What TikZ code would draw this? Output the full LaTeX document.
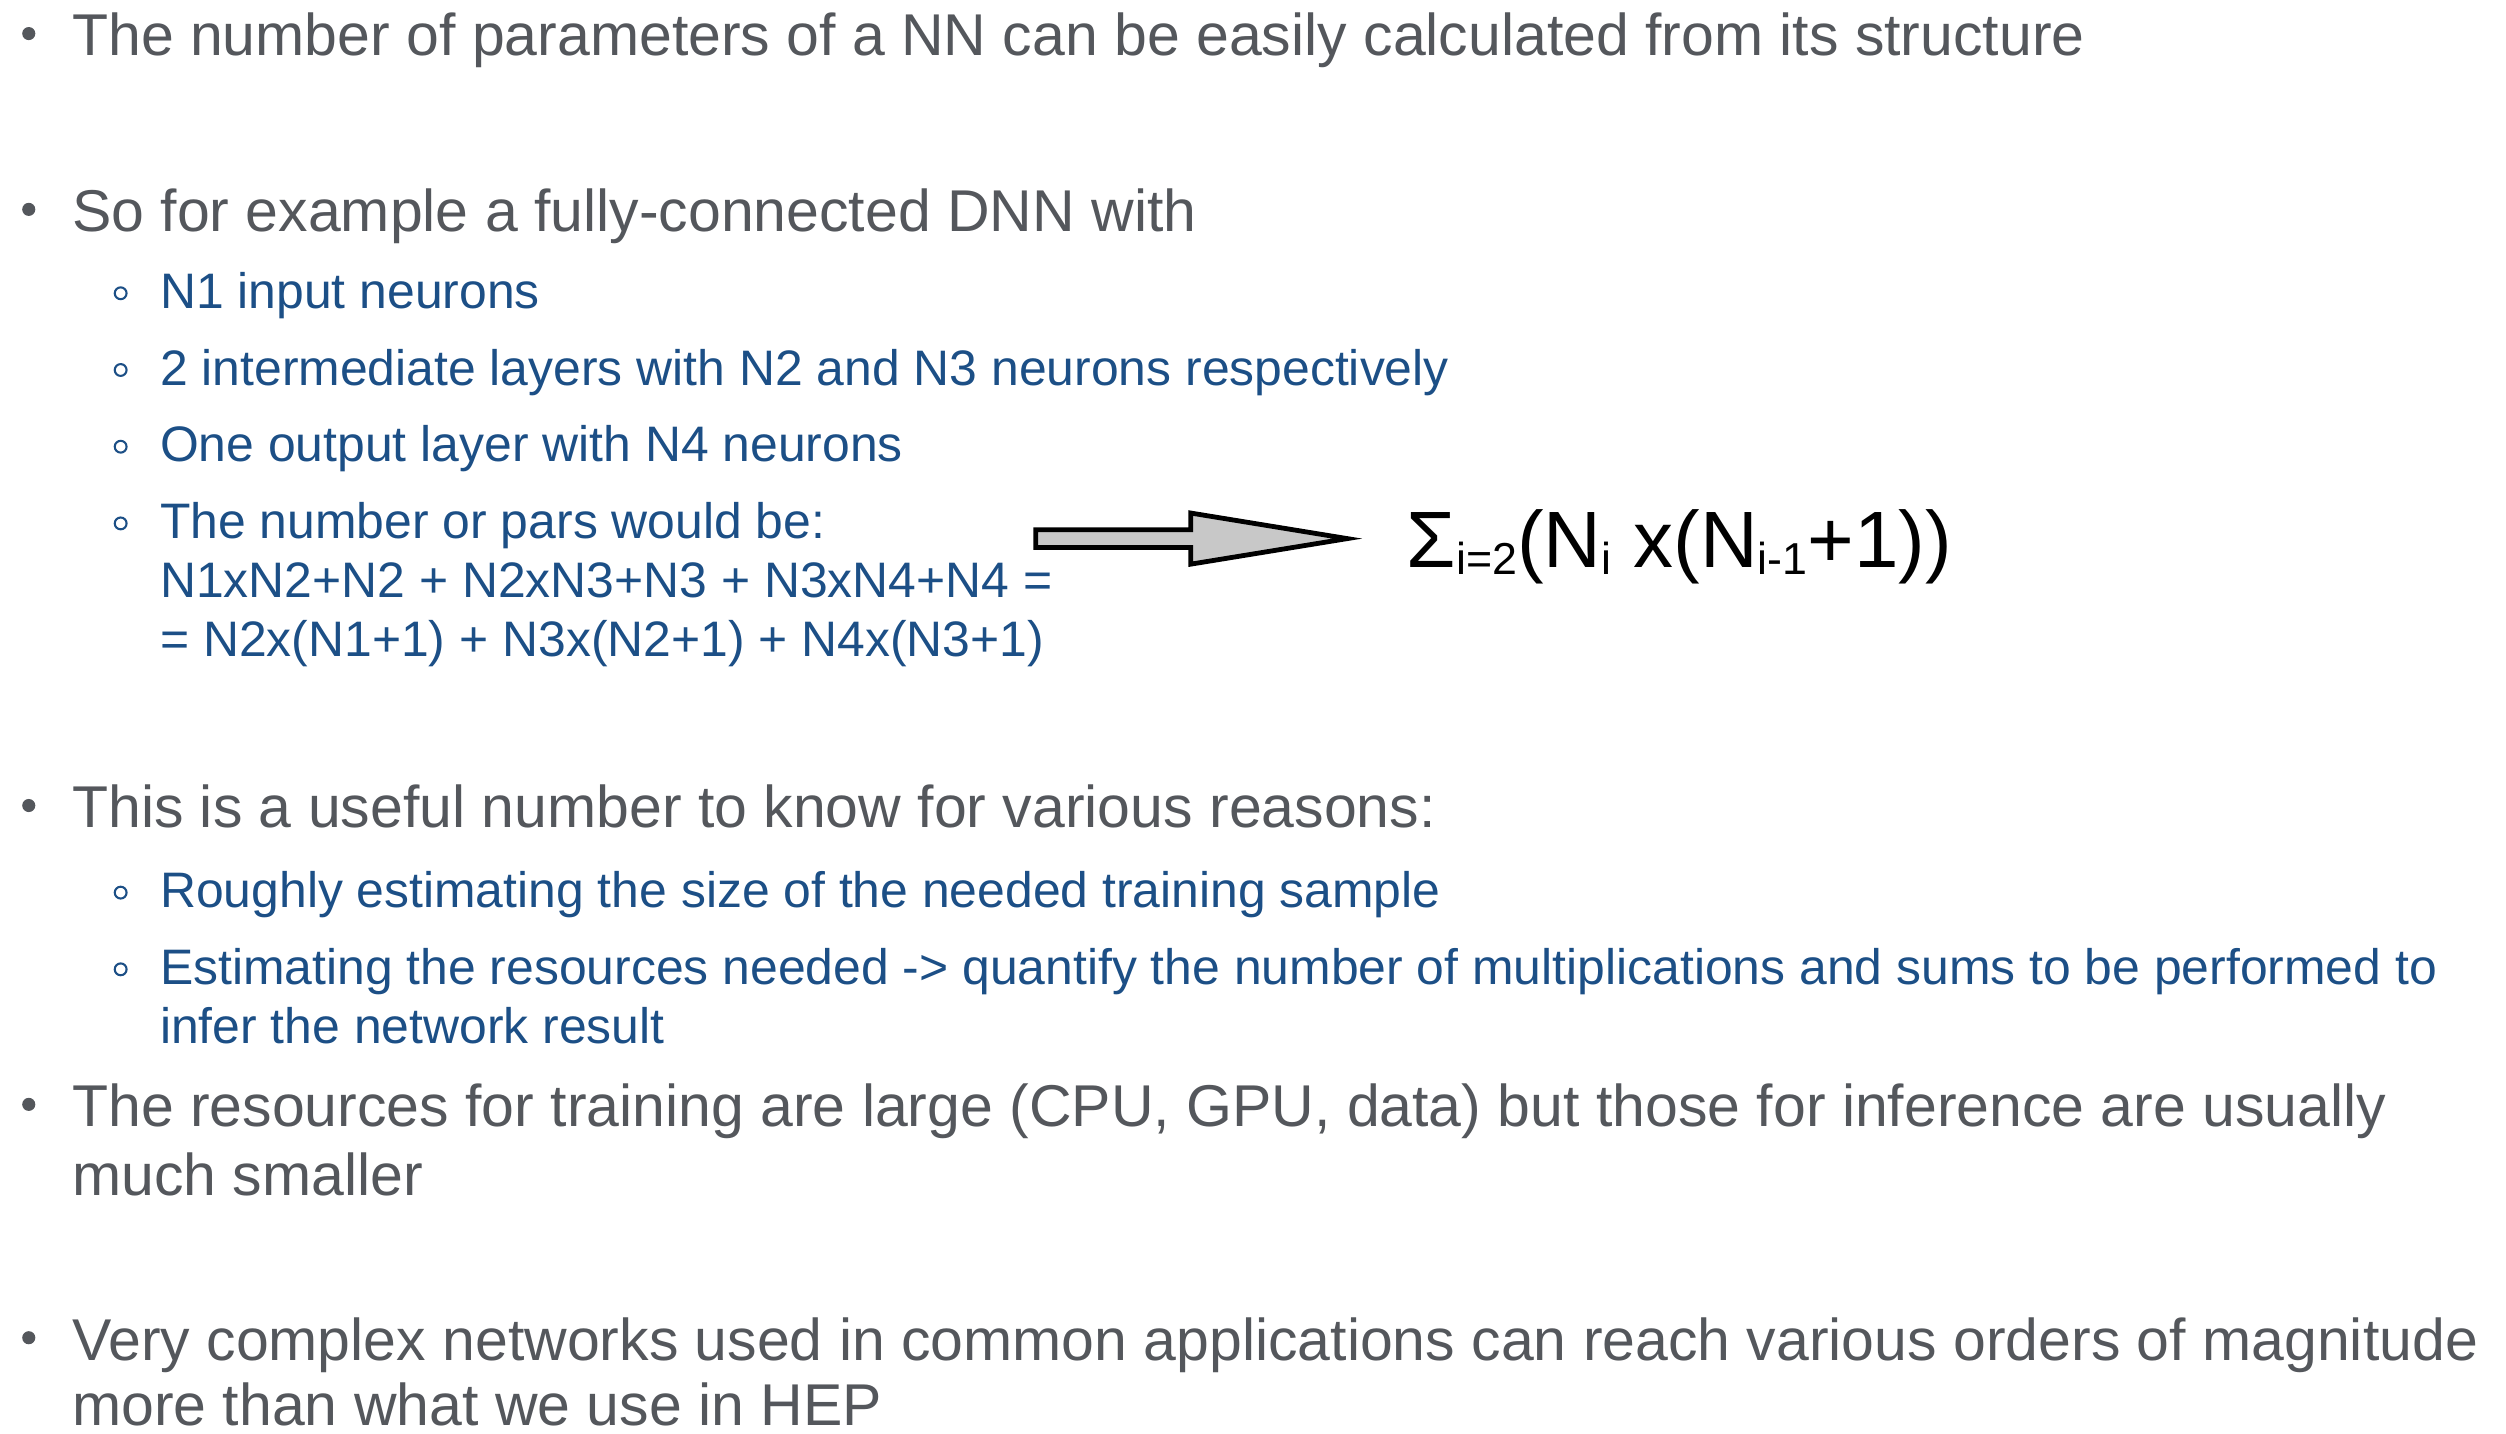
\documentclass[tikz,border=0pt]{standalone}
\usepackage{fontspec}
\setmainfont{Liberation Sans}
\definecolor{textgray}{RGB}{84,87,92}
\definecolor{subblue}{RGB}{28,79,134}
\definecolor{arrowfill}{RGB}{200,200,200}
\begin{document}
\begin{tikzpicture}[x=1pt,y=-1pt,
  lvlone/.style={anchor=base west, inner sep=0pt, text=textgray,
    font=\fontsize{36.9}{44}\selectfont},
  lvltwo/.style={anchor=base west, inner sep=0pt, text=subblue,
    font=\fontsize{31.2}{37}\selectfont},
  formula/.style={anchor=base west, inner sep=0pt, text=black,
    font=\fontsize{50}{60}\selectfont},
  dotone/.style={fill=textgray, draw=none},
  dottwo/.style={draw=subblue, line width=1.3pt, fill=none},
  blockarrow/.style={draw=black, line width=3pt, fill=arrowfill, line join=miter}
]
\useasboundingbox (0,0) rectangle (1568,897);

% first level bullets
\foreach \y in {35,145,518,705,851}
  \fill[dotone] (18,\y-14) circle (4.1);
% second level bullets
\foreach \y in {193,241,289,337,568,616}
  \draw[dottwo] (75.5,\y-9.5) circle (3.7);

\node[lvlone] (l1) at (45,35) {The number of parameters of a NN can be easily calculated from its structure};
\node[lvlone] (l2) at (45,145) {So for example a fully-connected DNN with};
\node[lvltwo] (s1) at (100,193) {N1 input neurons};
\node[lvltwo] (s2) at (100,241) {2 intermediate layers with N2 and N3 neurons respectively};
\node[lvltwo] (s3) at (100,289) {One output layer with N4 neurons};
\node[lvltwo] (s4) at (100,337) {The number or pars would be:};
\node[lvltwo] (s4b) at (100,374) {N1xN2+N2 + N2xN3+N3 + N3xN4+N4 =};
\node[lvltwo] (s4c) at (100,411) {= N2x(N1+1) + N3x(N2+1) + N4x(N3+1)};

\node[formula] (sum) at (880,355) {%
  Σ\raisebox{-4.5pt}{\fontsize{28}{30}\selectfont i=2}(N\raisebox{-4.5pt}{\fontsize{28}{30}\selectfont i}
  x(N\raisebox{-4.5pt}{\fontsize{28}{30}\selectfont i-1}+1))};

% block arrow pointing at the general formula
\draw[blockarrow] (648,331.5) -- (745,331.5) -- (745,321) -- (843,337)
  -- (745,353) -- (745,342.5) -- (648,342.5) -- cycle;

\node[lvlone] (l3) at (45,518) {This is a useful number to know for various reasons:};
\node[lvltwo] (r1) at (100,568) {Roughly estimating the size of the needed training sample};
\node[lvltwo] (r2) at (100,616) {Estimating the resources needed -> quantify the number of multiplications and sums to be performed to};
\node[lvltwo] (r2b) at (100,653) {infer the network result};
\node[lvlone] (l4) at (45,705) {The resources for training are large (CPU, GPU, data) but those for inference are usually};
\node[lvlone] (l4b) at (45,748) {much smaller};
\node[lvlone] (l5) at (45,851) {Very complex networks used in common applications can reach various orders of magnitude};
\node[lvlone] (l5b) at (45,892) {more than what we use in HEP};
\end{tikzpicture}
\end{document}
